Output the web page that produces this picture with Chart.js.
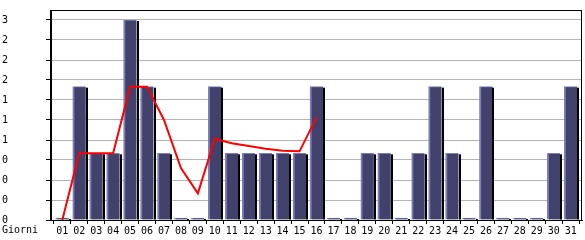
<!DOCTYPE html>
<html>
<head>
<meta charset="utf-8">
<script src="https://cdn.jsdelivr.net/npm/chart.js@4/dist/chart.umd.min.js"></script>
<style>
  html, body { margin: 0; padding: 0; background: #fff; }
</style>
</head>
<body>
<canvas id="chart" width="585" height="240"></canvas>
<script>
// Days of the month (x categories)
const days = ['01', '02', '03', '04', '05', '06', '07', '08', '09', '10',
  '11', '12', '13', '14', '15', '16', '17', '18', '19', '20',
  '21', '22', '23', '24', '25', '26', '27', '28', '29', '30', '31'];

// Daily values (bars)
const visits = [0, 2, 1, 1, 3, 2, 1, 0, 0, 2, 1, 1, 1, 1, 1, 2,
  0, 0, 1, 1, 0, 1, 2, 1, 0, 2, 0, 0, 0, 1, 2];

// Red trend line, only up to day 16
const trend = [0, 1, 1, 1, 2, 2, 1.5, 0.78, 0.4, 1.22, 1.15, 1.11, 1.07, 1.04, 1.03, 1.54];

const axisLabel = 'Giorni';
const monoFont = { family: 'DejaVu Sans Mono', size: 10 };

// black strip on the right of each bar, taken from the bar elements
const barShadow = {
  id: 'barShadow',
  afterDatasetDraw(chart, args) {
    if (args.index !== 0) return;
    const c = chart.ctx;
    c.save();
    c.fillStyle = '#000';
    args.meta.data.forEach((bar) => {
      const p = bar.getProps(['x', 'y', 'base', 'width'], true);
      const right = Math.round(p.x + p.width / 2);
      const top = Math.min(p.y, p.base) + 1;
      c.fillRect(right, top, 2, Math.max(p.base - top, 1));
    });
    c.restore();
  }
};

// box round the plot + "Giorni" label
const frame = {
  id: 'frame',
  afterDraw(chart) {
    const c = chart.ctx;
    const a = chart.chartArea;
    c.save();
    c.strokeStyle = '#000';
    c.lineWidth = 1;
    c.strokeRect(Math.round(a.left) - 0.5, Math.round(a.top) + 0.5,
      Math.round(a.right - a.left), Math.round(a.bottom - a.top));
    c.fillStyle = '#000';
    c.font = '10px "DejaVu Sans Mono"';
    c.textBaseline = 'top';
    c.textAlign = 'left';
    c.fillText(axisLabel, 2, chart.scales.x.top + 5);
    c.restore();
  }
};

const ctx = document.getElementById('chart').getContext('2d');

new Chart(ctx, {
  data: {
    datasets: [{
      type: 'bar',
      data: visits.map((v, i) => ({ x: i + 1, y: v })),
      backgroundColor: '#41416b',
      borderColor: '#7c7cb8',
      borderWidth: { left: 2, top: 1, right: 0, bottom: 0 },
      borderSkipped: false,
      barThickness: 13,
      minBarLength: 2,
      order: 1
    }, {
      type: 'line',
      data: trend.map((v, i) => ({ x: i + 1, y: v })),
      borderColor: '#ff0000',
      borderWidth: 2,
      pointRadius: 0,
      tension: 0,
      fill: false,
      order: 0
    }]
  },
  options: {
    responsive: false,
    animation: false,
    layout: { padding: { left: 2, top: 10, right: 3, bottom: 0 } },
    plugins: {
      legend: { display: false },
      tooltip: { enabled: false }
    },
    scales: {
      x: {
        type: 'linear',
        offset: false,
        min: 1 - 2 / 3,
        max: 31 + 2 / 3,
        afterFit(scale) { scale.height = 20; },
        ticks: {
          stepSize: 1,
          includeBounds: false,
          autoSkip: false,
          maxRotation: 0,
          padding: 1,
          color: '#000',
          font: monoFont,
          callback: (v) => days[v - 1]
        },
        grid: { drawOnChartArea: false, tickLength: 4, color: '#000', tickColor: '#000' },
        border: { color: '#000' }
      },
      y: {
        min: 0,
        max: 3.15,
        afterFit(scale) { scale.width = 49; },
        ticks: {
          stepSize: 0.3,
          includeBounds: false,
          crossAlign: 'far',
          color: '#000',
          font: monoFont,
          callback: (v) => Math.floor(v + 1e-6)
        },
        grid: { color: '#b4b4b4', tickColor: '#000', tickLength: 5 },
        border: { color: '#000' }
      }
    }
  },
  plugins: [barShadow, frame]
});
</script>
</body>
</html>
